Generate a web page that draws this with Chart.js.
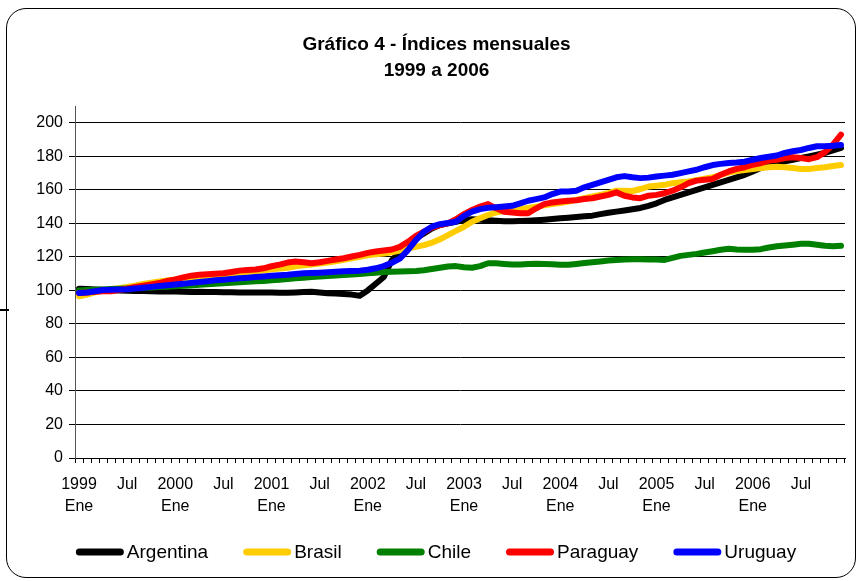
<!DOCTYPE html>
<html>
<head>
<meta charset="utf-8">
<script src="https://cdn.jsdelivr.net/npm/chart.js@4/dist/chart.umd.min.js"></script>
<style>
  html, body { margin: 0; padding: 0; background: #fff; }
  #wrap { position: relative; width: 860px; height: 581px; }
  #frame { position: absolute; left: 6px; top: 8px; width: 848px; height: 568px; border: 1.5px solid #000; border-radius: 20px; pointer-events: none; }
  #mark { position: absolute; left: 0; top: 309px; width: 9px; height: 2px; background: #000; }
</style>
</head>
<body>
<div id="wrap">
  <canvas id="c" width="860" height="581"></canvas>
  <div id="frame"></div>
  <div id="mark"></div>
</div>
<script>
const years = ['1999','2000','2001','2002','2003','2004','2005','2006'];
const months = ['Ene','Feb','Mar','Abr','May','Jun','Jul','Ago','Sep','Oct','Nov','Dic'];
const yTicks = [0, 20, 40, 60, 80, 100, 120, 140, 160, 180, 200];

const argentina = [
  101, 100.8, 100.6, 100.4, 100.1, 99.9, 99.8, 99.7, 99.6, 99.5, 99.4, 99.3,
  99.3, 99.2, 99.1, 99.2, 99.1, 99.0, 98.9, 98.9, 98.8, 98.8, 98.8, 98.7,
  98.7, 98.6, 98.6, 98.8, 99.1, 99.2, 98.8, 98.3, 98.1, 97.8, 97.5, 96.8,
  100, 104, 108, 118, 123, 127, 131, 134, 137, 139, 140, 141,
  142, 142.5, 142.2, 141.8, 141.5, 141.3, 141.2, 141.4, 141.6, 141.9, 142.2, 142.6,
  143, 143.4, 143.8, 144.2, 144.6, 145.5, 146.3, 147, 147.7, 148.4, 149.2, 150.5,
  152, 154, 155.5, 157, 158.5, 160, 161.5, 163, 164.5, 166, 167.5, 169,
  171, 173, 174.5, 176, 177, 178, 179, 180, 181, 182, 183.5, 185
];
const brasil = [
  96.5, 97.5, 98.8, 100, 100.8, 101.3, 102, 102.8, 103.8, 104.6, 105.3, 106,
  106.4, 106.6, 106.8, 107, 107.3, 107.6, 108.2, 109.4, 110.5, 111, 111.3, 111.8,
  112.6, 113, 113.5, 114.4, 115, 115.4, 116, 116.6, 117.4, 118.3, 119.2, 120,
  121, 121.6, 122, 122.8, 123.8, 125, 126, 127, 128.5, 130.5, 133, 135.5,
  138, 141, 143, 145, 146.5, 147.5, 148, 148.5, 149.2, 150, 150.8, 151.5,
  152.2, 153, 154, 155, 156, 157, 158, 159.5, 159.5, 159.3, 160.5, 162,
  162.5, 163, 164, 164.5, 165, 165.8, 166.6, 167.5, 169, 170.3, 171.2, 171.8,
  172.4, 173, 173.5, 173.8, 173.5, 173, 172.5, 172.5, 173, 173.5, 174.2, 174.8
];
const chile = [
  100, 100.2, 100.4, 100.6, 100.8, 101, 101.2, 101.4, 101.6, 101.8, 102, 102.2,
  102.5, 102.8, 103, 103.3, 103.6, 103.9, 104.2, 104.5, 104.8, 105.1, 105.4, 105.6,
  106, 106.4, 106.8, 107.2, 107.6, 108, 108.3, 108.6, 108.9, 109.2, 109.5, 109.8,
  110.3, 110.6, 111, 111.2, 111.3, 111.4, 111.6, 112, 112.8, 113.5, 114.3, 114.5,
  113.8, 113.5, 114.5, 116.2, 116.2, 115.8, 115.5, 115.5, 115.7, 115.9, 115.8, 115.6,
  115.3, 115.3, 115.8, 116.3, 116.8, 117.3, 117.8, 118.2, 118.5, 118.6, 118.6, 118.5,
  118.4, 118.2, 119.4, 120.6, 121.2, 121.8, 122.6, 123.4, 124.3, 124.8, 124.4, 124.2,
  124.2, 124.6, 125.6, 126.3, 126.8, 127.3, 127.8, 127.8, 127.2, 126.6, 126.4, 126.6
];
const paraguay = [
  98.5, 98.8, 99.2, 99.5, 99.5, 100.2, 101, 102, 102.8, 103.6, 104.4, 105.6,
  106.5, 107.8, 108.8, 109.3, 109.6, 110, 110.2, 111, 111.8, 112.2, 112.5, 113.2,
  114.4, 115.4, 116.6, 117.2, 116.8, 116.2, 116.8, 117.6, 118.4, 119.2, 120.2, 121.2,
  122.4, 123.2, 123.8, 124.4, 126, 129, 132.5, 135, 137.5, 139, 140, 142.5,
  145.5, 148, 150, 151.5, 149, 147, 146.5, 146, 146, 149, 151.5, 152.5,
  153, 153.5, 153.8, 154.5, 155, 156, 157, 158.5, 156.5, 155.5, 155, 156.5,
  157, 158, 159.5, 161.5, 164, 165.5, 166, 166.5, 169, 171, 172.5, 173.5,
  175, 176, 177.5, 178, 179, 179.5, 179, 178.3, 179.5, 182.5, 187, 193
];
const uruguay = [
  98.5, 98.8, 99.5, 100.2, 100.4, 100.5, 100.7, 101.1, 101.6, 102.1, 102.6, 103.1,
  103.5, 104, 104.5, 105, 105.5, 106, 106.4, 106.8, 107.2, 107.6, 108, 108.3,
  108.7, 109, 109.3, 109.8, 110.2, 110.4, 110.6, 110.9, 111.2, 111.4, 111.6, 111.8,
  112.3, 113.2, 114.5, 116.5, 119, 124, 130, 135, 138, 139.5, 140.2, 141,
  144.5, 147, 148.5, 149.3, 149.6, 150, 150.5, 152, 153.5, 154.5, 155.5, 157.5,
  159, 159, 159.5, 161.5, 163, 164.5, 166, 167.5, 168.2, 167.5, 167, 167.3,
  168, 168.5, 169, 170, 171, 172, 173.5, 174.8, 175.5, 176, 176.3, 176.8,
  178, 179, 179.8, 180.5, 182, 183, 183.8, 185, 186, 186, 186.3, 186.8
];

const seriesNames = ['Argentina', 'Brasil', 'Chile', 'Paraguay', 'Uruguay'];
const seriesColors = ['#000000', '#FFCC00', '#008000', '#FF0000', '#0000FF'];
const seriesData = [argentina, brasil, chile, paraguay, uruguay];

const categories = [];
years.forEach(y => months.forEach(m => categories.push({ y, m })));
const labels = categories.map(c => c.y + ' ' + c.m);

const FONT = "'Liberation Sans', Arial, sans-serif";

const datasets = seriesNames.map((name, i) => ({
  label: name,
  data: seriesData[i],
  borderColor: seriesColors[i],
  backgroundColor: seriesColors[i],
  borderWidth: 6,
  pointRadius: 0,
  tension: 0,
  borderJoinStyle: 'round',
  borderCapStyle: 'round',
  fill: false,
  order: seriesNames.length - 1 - i
}));

// Legend drawn by a small plugin so the swatch/text spacing matches the original
const bottomLegend = {
  id: 'bottomLegend',
  afterDraw(chart) {
    const ctx = chart.ctx;
    const fontSize = 19, sw = 48, sh = 7, gapText = 3, gapItem = 35, cy = 552, cx = 436;
    ctx.save();
    ctx.font = fontSize + 'px ' + FONT;
    const items = chart.data.datasets.map(ds => ({ text: ds.label, color: ds.borderColor, w: ctx.measureText(ds.label).width }));
    const total = items.reduce((s, it) => s + sw + gapText + it.w, 0) + gapItem * (items.length - 1);
    let x = cx - total / 2;
    ctx.textBaseline = 'middle';
    ctx.textAlign = 'left';
    items.forEach(it => {
      ctx.fillStyle = it.color;
      ctx.beginPath();
      ctx.roundRect(x, cy - sh / 2, sw, sh, sh / 2);
      ctx.fill();
      ctx.fillStyle = '#000';
      ctx.fillText(it.text, x + sw + gapText, cy + 1);
      x += sw + gapText + it.w + gapItem;
    });
    ctx.restore();
  }
};

new Chart(document.getElementById('c'), {
  type: 'line',
  data: { labels, datasets },
  plugins: [bottomLegend],
  options: {
    responsive: false,
    animation: false,
    devicePixelRatio: 1,
    layout: { padding: { left: 28, right: 15, top: 0, bottom: 48 } },
    plugins: {
      tooltip: { enabled: false },
      legend: { display: false },
      title: {
        display: true,
        text: ['Gráfico 4 - Índices mensuales', '1999 a 2006'],
        color: '#000',
        font: { family: FONT, size: 19, weight: 'bold', lineHeight: 1.37 },
        padding: { top: 32, bottom: 22 }
      }
    },
    scales: {
      x: {
        type: 'category',
        offset: true,
        afterFit: (s) => { s.height = 75; },
        grid: { display: true, drawOnChartArea: false, drawTicks: true, tickLength: 5, color: '#000', offset: true },
        border: { display: true, color: '#000', width: 1 },
        ticks: {
          autoSkip: false,
          maxRotation: 0,
          minRotation: 0,
          padding: 11,
          color: '#000',
          font: { family: FONT, size: 16, lineHeight: 1.375 },
          callback: (v, i) => {
            const c = categories[i];
            if (c.m === months[0]) return [c.y, c.m];
            if (c.m === months[6]) return c.m;
            return '';
          }
        }
      },
      y: {
        min: 0,
        max: 210,
        afterFit: (s) => { s.width = 47; },
        afterBuildTicks: (s) => { s.ticks = yTicks.map(v => ({ value: v })); },
        grid: { color: '#000', lineWidth: 1, drawTicks: true, tickLength: 6 },
        border: { display: true, color: '#555', width: 1 },
        ticks: {
          padding: 6,
          color: '#000',
          font: { family: FONT, size: 16 }
        }
      }
    }
  }
});
</script>
</body>
</html>
